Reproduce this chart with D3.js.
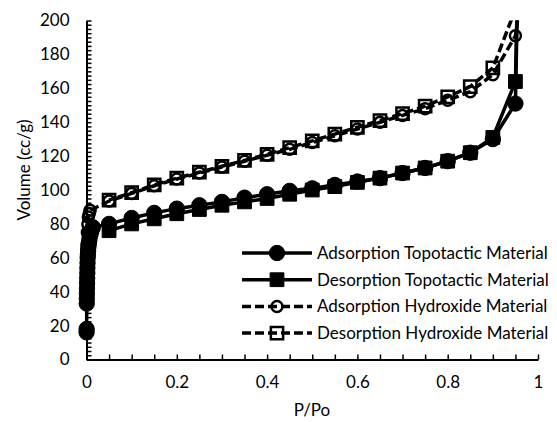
<!DOCTYPE html>
<html>
<head>
    <script src="https://d3js.org/d3.v7.min.js"></script>
    <style>
        body { margin: 0; background: #fff; }
        text { font-family: Lato, "Open Sans", sans-serif; fill: #000; }
    </style>
</head>
<body>
    <script>
        // Data (P/Po vs volume)
        const adsTopoX = [0.0002, 0.0003, 0.0005, 0.0007, 0.0009, 0.0011, 0.0013, 0.0015, 0.0018, 0.002, 0.0023, 0.0026, 0.003,
            0.0035, 0.004, 0.005, 0.006, 0.007, 0.009, 0.011, 0.014,
            0.05, 0.1, 0.15, 0.2, 0.25, 0.3, 0.35, 0.4, 0.45, 0.5, 0.55, 0.6, 0.65, 0.7, 0.75, 0.8, 0.85, 0.9, 0.95, 0.958];
        const adsTopoY = [16, 18, 33, 36, 39, 42, 45, 48, 51, 54, 57, 60, 62,
            64, 66, 68, 70, 72, 74, 76, 78,
            80, 83.5, 86.5, 89, 91, 93, 95.5, 97.5, 99.5, 101, 103, 105, 107, 110, 113, 117, 122, 130, 151, 260];

        const desTopoX = [0.958, 0.95, 0.9, 0.85, 0.8, 0.75, 0.7, 0.65, 0.6, 0.55, 0.5, 0.45, 0.4, 0.35, 0.3, 0.25, 0.2, 0.15, 0.1, 0.05];
        const desTopoY = [260, 164, 131, 122, 117, 113, 110, 107, 104.5, 102, 100, 97.5, 95, 93, 91, 88.5, 86, 83, 80, 76];

        const adsHydX = [0.0005, 0.001, 0.0015, 0.002, 0.003, 0.004, 0.006, 0.008, 0.05, 0.1, 0.15, 0.2, 0.25, 0.3, 0.35, 0.4,
            0.45, 0.5, 0.55, 0.6, 0.65, 0.7, 0.75, 0.8, 0.85, 0.9, 0.95, 0.962];
        const adsHydY = [50, 60, 68, 75, 80, 84, 86, 88, 93.5, 98, 102.5, 106.5, 110, 113.5, 117, 120.5,
            124, 128, 132, 136, 140, 144, 148, 153, 158, 168, 191, 215];

        const desHydX = [0.962, 0.9, 0.85, 0.8, 0.75, 0.7, 0.65, 0.6, 0.55, 0.5, 0.45, 0.4, 0.35, 0.3, 0.25, 0.2, 0.15, 0.1, 0.05];
        const desHydY = [215, 172, 161, 155, 149.5, 145, 141, 137, 133, 129, 125, 121, 117.5, 114, 110.5, 107, 103, 98.5, 94];

        const xTicks = [0, 0.2, 0.4, 0.6, 0.8, 1];
        const yTicks = [0, 20, 40, 60, 80, 100, 120, 140, 160, 180, 200];

        const seriesNames = ["Adsorption Topotactic Material", "Desorption Topotactic Material",
            "Adsorption Hydroxide Material", "Desorption Hydroxide Material"];

        const width = 557, height = 422;
        const svg = d3.select("body").append("svg")
            .attr("width", width)
            .attr("height", height);

        const x = d3.scaleLinear().domain([0, 1]).range([86.5, 538]);
        const y = d3.scaleLinear().domain([0, 200]).range([359.5, 20.5]);

        svg.append("clipPath").attr("id", "plot")
            .append("rect")
            .attr("x", 0).attr("y", y(200))
            .attr("width", width).attr("height", y(0) - y(200) + 20);

        // minor ticks (inside)
        const xMinor = d3.axisTop(x).tickValues(d3.range(0, 1.0001, 0.05)).tickSize(5).tickFormat("");
        svg.append("g").attr("transform", `translate(0,${y(0)})`).call(xMinor)
            .call(g => g.select(".domain").remove())
            .selectAll("line").attr("stroke-width", 1.5);

        const yMinor = d3.axisRight(y).tickValues(d3.range(0, 200.01, 2.5)).tickSize(5).tickFormat("");
        svg.append("g").attr("transform", `translate(${x(0)},0)`).call(yMinor)
            .call(g => g.select(".domain").remove())
            .selectAll("line").attr("stroke-width", 1.5);

        // axes with labels
        const xAxis = d3.axisBottom(x).tickValues(xTicks).tickSize(0).tickPadding(16)
            .tickFormat(d => d === 0 || d === 1 ? d : d3.format(".1f")(d));
        svg.append("g").attr("transform", `translate(0,${y(0)})`).call(xAxis)
            .call(g => g.select(".domain").attr("stroke-width", 2))
            .selectAll("text").style("font-size", "17px");

        const yAxis = d3.axisLeft(y).tickValues(yTicks).tickSize(0).tickPadding(17);
        svg.append("g").attr("transform", `translate(${x(0)},0)`).call(yAxis)
            .call(g => g.select(".domain").attr("stroke-width", 2))
            .selectAll("text").style("font-size", "17px");

        // axis titles
        svg.append("text")
            .attr("x", 312).attr("y", 416)
            .attr("text-anchor", "middle")
            .style("font-size", "17px")
            .text("P/Po");

        svg.append("text")
            .attr("transform", "translate(30,170) rotate(-90)")
            .attr("text-anchor", "middle")
            .style("font-size", "17px")
            .text("Volume (cc/g)");

        const series = [
            { xs: adsTopoX, ys: adsTopoY, dash: null, symbol: d3.symbolCircle, size: 185, filled: true },
            { xs: desTopoX, ys: desTopoY, dash: null, symbol: d3.symbolSquare, size: 190, filled: true },
            { xs: adsHydX, ys: adsHydY, dash: "9,4", symbol: d3.symbolCircle, size: 95, filled: false },
            { xs: desHydX, ys: desHydY, dash: "9,4", symbol: d3.symbolSquare, size: 150, filled: false }
        ];

        const line = d3.line().x(d => x(d[0])).y(d => y(d[1]));
        const plot = svg.append("g").attr("clip-path", "url(#plot)");

        series.forEach(s => {
            const pts = s.xs.map((v, i) => [v, s.ys[i]]);
            plot.append("path")
                .datum(pts)
                .attr("d", line)
                .attr("fill", "none")
                .attr("stroke", "#000")
                .attr("stroke-width", 3.5)
                .attr("stroke-dasharray", s.dash);
            svg.append("g").selectAll("path")
                .data(pts.filter(d => d[1] <= 200))
                .enter()
                .append("path")
                .attr("transform", d => `translate(${x(d[0])},${y(d[1])})`)
                .attr("d", d3.symbol(s.symbol, s.size))
                .attr("fill", s.filled ? "#000" : "none")
                .attr("stroke", "#000")
                .attr("stroke-width", s.filled ? 1 : 2.5);
        });

        // legend
        const legend = svg.append("g").attr("transform", "translate(242,253)");
        series.forEach((s, i) => {
            const row = legend.append("g").attr("transform", `translate(0,${i * 26.7})`);
            row.append("line")
                .attr("x1", 0).attr("x2", 70)
                .attr("stroke", "#000")
                .attr("stroke-width", 3.5)
                .attr("stroke-dasharray", s.dash);
            row.append("path")
                .attr("transform", "translate(35,0)")
                .attr("d", d3.symbol(s.symbol, s.size))
                .attr("fill", s.filled ? "#000" : "none")
                .attr("stroke", "#000")
                .attr("stroke-width", s.filled ? 1 : 2.5);
            row.append("text")
                .attr("x", 75).attr("dy", "0.35em")
                .style("font-size", "17px")
                .text(seriesNames[i]);
        });
    </script>
</body>
</html>
